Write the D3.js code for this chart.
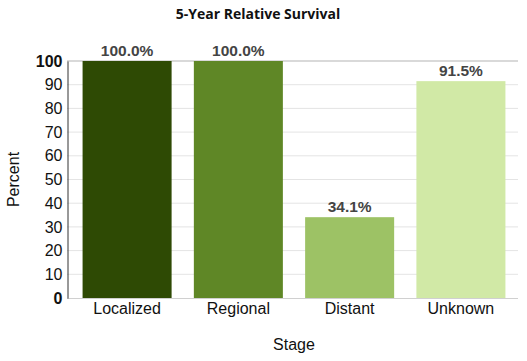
<!DOCTYPE html>
<html>
<head>
<meta charset="utf-8">
<script src="https://cdn.jsdelivr.net/npm/d3@7"></script>
<style>
  body { margin: 0; background: #fff; }
  text { font-family: "Liberation Sans", Arial, sans-serif; }
</style>
</head>
<body>
<div id="chart"></div>
<script>
// data
const stages = ["Localized", "Regional", "Distant", "Unknown"]
const survival = [100.0, 100.0, 34.1, 91.5]
const barColors = ["#2e4a04", "#5f8726", "#9dc265", "#d1e9a6"]
const yTicks = [0, 10, 20, 30, 40, 50, 60, 70, 80, 90, 100]

const W = 527, H = 361
const plot = { left: 67, right: 521, top: 61, bottom: 298 }

const svg = d3.select("#chart").append("svg")
    .attr("width", W)
    .attr("height", H)

const xScale = d3.scaleBand()
    .domain(stages)
    .range([plot.left, plot.right])
    .paddingInner(0.2)
    .paddingOuter(0.14)

const yScale = d3.scaleLinear()
    .domain([0, 100])
    .range([plot.bottom, plot.top])

// gridlines
svg.append("g")
    .selectAll("line")
    .data(yTicks.filter(d => d > 0))
    .enter()
    .append("line")
    .attr("x1", plot.left)
    .attr("x2", 518)
    .attr("y1", d => yScale(d))
    .attr("y2", d => yScale(d))
    .attr("stroke", d => d === 100 ? "#d9d9d9" : "#e4e4e4")
    .attr("stroke-width", d => d === 100 ? 2 : 1)

// bars
svg.selectAll("rect.bar")
    .data(stages)
    .enter()
    .append("rect")
    .attr("class", "bar")
    .attr("x", d => xScale(d))
    .attr("width", xScale.bandwidth())
    .attr("y", (d, i) => yScale(survival[i]))
    .attr("height", (d, i) => yScale(0) - yScale(survival[i]))
    .attr("fill", (d, i) => barColors[i])

// value labels
svg.selectAll("text.val")
    .data(stages)
    .enter()
    .append("text")
    .attr("class", "val")
    .attr("x", d => xScale(d) + xScale.bandwidth() / 2)
    .attr("y", (d, i) => yScale(survival[i]) - 5)
    .attr("text-anchor", "middle")
    .attr("font-size", 15.5)
    .attr("font-weight", "bold")
    .attr("fill", "#444")
    .text((d, i) => survival[i].toFixed(1) + "%")

// x baseline
svg.append("line")
    .attr("x1", plot.left)
    .attr("x2", 518)
    .attr("y1", plot.bottom + 0.5)
    .attr("y2", plot.bottom + 0.5)
    .attr("stroke", "#d0d0d0")

// axes
const yAxis = d3.axisLeft(yScale).tickValues(yTicks).tickSize(0).tickPadding(5)
const gy = svg.append("g")
    .attr("transform", `translate(${plot.left + 0.5},0)`)
    .call(yAxis)
gy.select(".domain").attr("stroke", "#333")
gy.selectAll("text")
    .attr("font-size", 16)
    .attr("fill", "#111")
    .attr("font-weight", d => (d === 0 || d === 100) ? "bold" : "normal")

const xAxis = d3.axisBottom(xScale).tickSize(0).tickPadding(5)
const gx = svg.append("g")
    .attr("transform", `translate(0,${plot.bottom})`)
    .call(xAxis)
gx.select(".domain").remove()
gx.selectAll("text")
    .attr("font-size", 16)
    .attr("fill", "#111")

// titles
svg.append("text")
    .attr("x", 258)
    .attr("y", 19)
    .attr("text-anchor", "middle")
    .attr("font-size", 14)
    .attr("font-weight", "bold")
    .style("font-family", "'Open Sans', sans-serif")
    .attr("fill", "#111")
    .text("5-Year Relative Survival")

svg.append("text")
    .attr("transform", `translate(19,${(plot.top + plot.bottom) / 2}) rotate(-90)`)
    .attr("text-anchor", "middle")
    .attr("font-size", 16)
    .attr("fill", "#111")
    .text("Percent")

svg.append("text")
    .attr("x", 294)
    .attr("y", 350)
    .attr("text-anchor", "middle")
    .attr("font-size", 16)
    .attr("fill", "#111")
    .text("Stage")
</script>
</body>
</html>
